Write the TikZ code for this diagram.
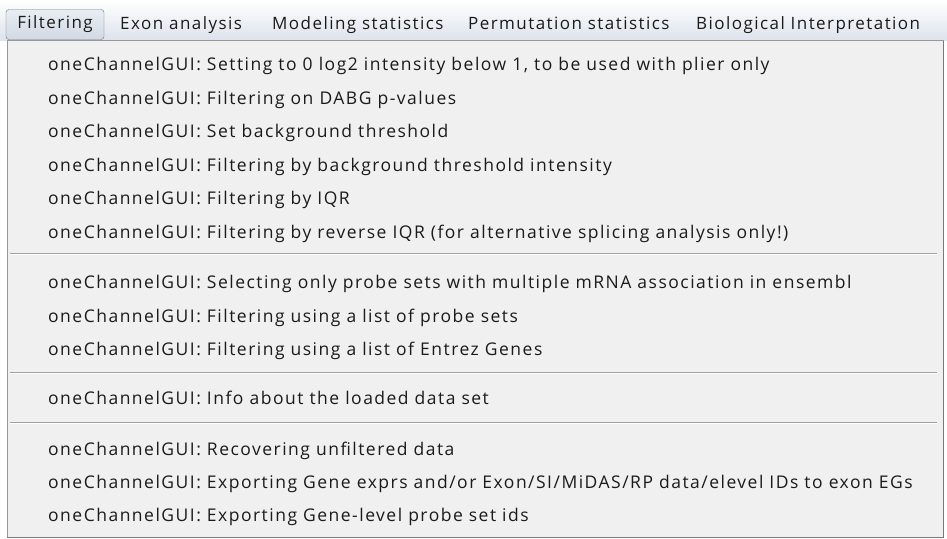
\documentclass[tikz,border=0pt]{standalone}
\usepackage{fontspec}
\setmainfont{Open Sans}
\newfontfamily\uifont{Open Sans}[LetterSpace=8.5]
\usetikzlibrary{positioning}
\definecolor{barlight}{HTML}{FFFFFF}
\definecolor{barblue}{HTML}{DDE3EC}
\definecolor{btnedge}{HTML}{6E7682}
\definecolor{btntop}{HTML}{E9EDF3}
\definecolor{btnbottom}{HTML}{D2D9E3}
\definecolor{menugray}{HTML}{F0F0F0}
\definecolor{menuedge}{HTML}{979797}
\definecolor{sepgray}{HTML}{A0A0A0}
\definecolor{textdark}{HTML}{1B1B1B}

\begin{document}
\begin{tikzpicture}[x=1pt, y=-1pt,
    bar/.style={anchor=base west, inner sep=0pt, text=textdark, font=\uifont\fontsize{17}{20}\selectfont},
    item/.style={anchor=base west, inner sep=0pt, text=textdark, font=\uifont\fontsize{17.5}{20}\selectfont}]
\useasboundingbox (0,0) rectangle (947,538);

            % Menu bar
            \fill [white] (0,0) rectangle (947,538);
            \shade [top color=barlight, bottom color=barblue] (0,0) rectangle (947,40);
            \node [draw=btnedge, rounded corners=3pt, top color=btntop, bottom color=btnbottom, minimum width=98pt, minimum height=30pt, inner sep=0pt, text height=9pt, text depth=1pt, text=textdark, font=\uifont\fontsize{17}{20}\selectfont] (Filtering) at (55,24.5) {Filtering};
            \node [bar] (Exon) at (120,29) {Exon analysis};
            \node [bar] (Modeling) at (272,29) {Modeling statistics};
            \node [bar] (Permutation) at (468,29) {Permutation statistics};
            \node [bar] (Biological) at (696,29) {Biological Interpretation};

            % Menu panel
            \draw [draw=menuedge, fill=menugray] (7,40.5) rectangle (943,537);
            \draw [menuedge!80!black] (943,41) -- (943,537) -- (7,537);

            % Items
            \node [item] (Setzero) at (48,70) {oneChannelGUI: Setting to 0 log2 intensity below 1, to be used with plier only};
            \node [item] (Dabg) at (48,104) {oneChannelGUI: Filtering on DABG p-values};
            \node [item] (Threshold) at (48,137) {oneChannelGUI: Set background threshold};
            \node [item] (Background) at (48,171) {oneChannelGUI: Filtering by background threshold intensity};
            \node [item] (Iqr) at (48,204) {oneChannelGUI: Filtering by IQR};
            \node [item] (Reverse) at (48,238) {oneChannelGUI: Filtering by reverse IQR (for alternative splicing analysis only!)};

            \node [item] (Ensembl) at (48,288) {oneChannelGUI: Selecting only probe sets with multiple mRNA association in ensembl};
            \node [item] (Probesets) at (48,322) {oneChannelGUI: Filtering using a list of probe sets};
            \node [item] (Entrez) at (48,355) {oneChannelGUI: Filtering using a list of Entrez Genes};

            \node [item] (Info) at (48,404) {oneChannelGUI: Info about the loaded data set};

            \node [item] (Recover) at (48,455) {oneChannelGUI: Recovering unfiltered data};
            \node [item] (Export) at (48,488) {oneChannelGUI: Exporting Gene exprs and/or Exon/SI/MiDAS/RP data/elevel IDs to exon EGs};
            \node [item] (Genelevel) at (48,521) {oneChannelGUI: Exporting Gene-level probe set ids};

            % Separators
            \draw [sepgray] (10,253) -- (937,253);
            \draw [white] (10,254) -- (937,254);
            \draw [sepgray] (10,372) -- (937,372);
            \draw [white] (10,373) -- (937,373);
            \draw [sepgray] (10,422) -- (937,422);
            \draw [white] (10,423) -- (937,423);

\end{tikzpicture}
\end{document}
